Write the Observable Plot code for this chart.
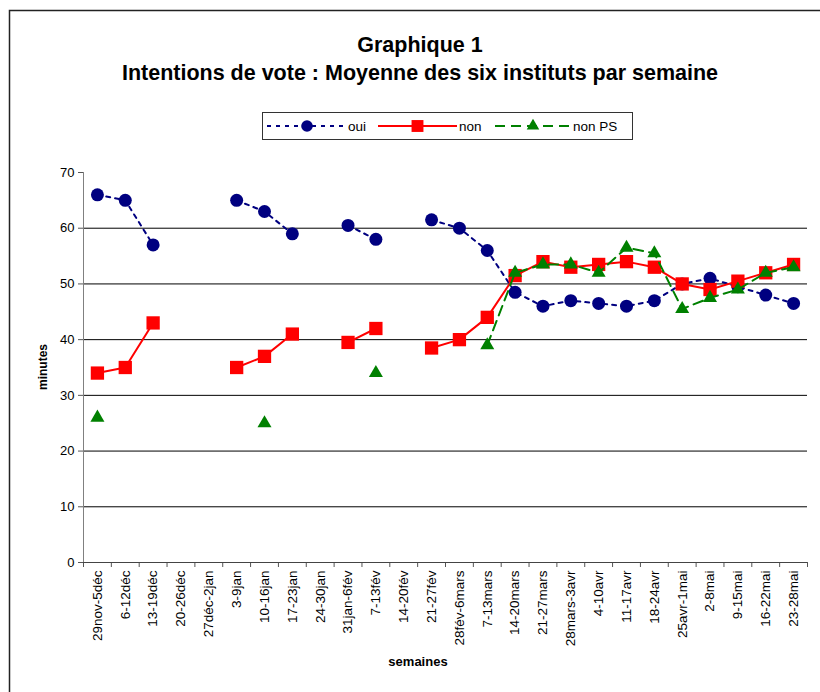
<!DOCTYPE html>
<html>
<head>
<meta charset="utf-8">
<script src="https://cdn.jsdelivr.net/npm/d3@7"></script>
<script src="https://cdn.jsdelivr.net/npm/@observablehq/plot@0.6"></script>
<style>
  html, body { margin: 0; padding: 0; background: #fff; }
  #wrap { position: relative; width: 820px; height: 692px; overflow: hidden; font-family: "Liberation Sans", Arial, sans-serif; }
  #wrap > svg { position: absolute; left: 0; top: 0; }
</style>
</head>
<body>
<div id="wrap"></div>
<script>
const title1 = "Graphique 1";
const title2 = "Intentions de vote : Moyenne des six instituts par semaine";
const xTitle = "semaines";
const yTitle = "minutes";
const seriesNames = ["oui", "non", "non PS"];
const weeks = ["29nov-5déc","6-12déc","13-19déc","20-26déc","27déc-2jan","3-9jan","10-16jan","17-23jan","24-30jan","31jan-6fév","7-13fév","14-20fév","21-27fév","28fév-6mars","7-13mars","14-20mars","21-27mars","28mars-3avr","4-10avr","11-17avr","18-24avr","25avr-1mai","2-8mai","9-15mai","16-22mai","23-28mai"];
const oui   = [66,65,57,null,null,65,63,59,null,60.5,58,null,61.5,60,56,48.5,46,47,46.5,46,47,50,51,49.5,48,46.5];
const non   = [34,35,43,null,null,35,37,41,null,39.5,42,null,38.5,40,44,51.5,54,53,53.5,54,53,50,49,50.5,52,53.5];
const nonPS = [26,null,null,null,null,null,25,null,null,null,34,null,null,null,39,52,53.5,53.5,52,56.5,55.5,45.5,47.5,49,52,53];
const yTicks = [0,10,20,30,40,50,60,70];
const gridTicks = [10,20,30,40,50,60];

const colors = ["#000080", "#FF0000", "#008000"];
const dashes = ["4,5", null, "10,6"];
const symbols = ["circle", "square", "triangle"];
const radii = [6.5, 7.5, 5.2];

const rows = weeks.map((w, i) => ({i, w, oui: oui[i] ?? NaN, non: non[i] ?? NaN, nonPS: nonPS[i] ?? NaN}));
const keys = ["oui", "non", "nonPS"];

const seriesMarks = keys.flatMap((k, s) => [
  Plot.line(rows, {x: "i", y: k, stroke: colors[s], strokeWidth: 2, strokeDasharray: dashes[s] ?? undefined}),
  Plot.dot(rows, {x: "i", y: k, fill: colors[s], stroke: "none", r: radii[s], symbol: symbols[s]})
]);

const chart = Plot.plot({
  width: 820,
  height: 692,
  marginLeft: 83,
  marginRight: 13,
  marginTop: 172,
  marginBottom: 130,
  style: {fontFamily: "'Liberation Sans', Arial, sans-serif", fontSize: "13px", color: "#000", background: "transparent", overflow: "visible"},
  x: {type: "linear", domain: [-0.5, weeks.length - 0.5]},
  y: {domain: [0, 70]},
  marks: [
    Plot.gridY(gridTicks, {stroke: "#000", strokeOpacity: 1}),
    Plot.axisY({ticks: yTicks, tickSize: 5, tickPadding: 4, fontSize: 13, label: null, stroke: "#555"}),
    Plot.axisX({ticks: d3.range(weeks.length), tickFormat: i => weeks[i], tickSize: 0, tickRotate: -90, tickPadding: 8, fontSize: 13.5, label: null}),
    Plot.axisX({ticks: d3.range(weeks.length + 1).map(v => v - 0.5), tickFormat: () => "", tickSize: 5, label: null, stroke: "#555"}),
    Plot.ruleX([-0.5], {stroke: "#808080"}),
    Plot.ruleY([0], {stroke: "#444"}),
    ...seriesMarks
  ]
});
document.getElementById("wrap").appendChild(chart);

// overlay: border, titles, axis titles, legend
const ov = d3.select("#wrap").append("svg").attr("width", 820).attr("height", 692)
  .style("font-family", "'Liberation Sans', Arial, sans-serif");
ov.append("rect").attr("x", 9.5).attr("y", 10.5).attr("width", 830).attr("height", 700)
  .attr("fill", "none").attr("stroke", "#222").attr("stroke-width", 1.5);
ov.append("text").attr("x", 420).attr("y", 52).attr("text-anchor", "middle")
  .attr("font-weight", "bold").attr("font-size", 21.5).text(title1);
ov.append("text").attr("x", 420).attr("y", 80).attr("text-anchor", "middle")
  .attr("font-weight", "bold").attr("font-size", 21.5).text(title2);
ov.append("text").attr("x", 418).attr("y", 666).attr("text-anchor", "middle")
  .attr("font-weight", "bold").attr("font-size", 13).text(xTitle);
ov.append("text").attr("transform", "translate(47,367) rotate(-90)").attr("text-anchor", "middle")
  .attr("font-weight", "bold").attr("font-size", 12).text(yTitle);

const lg = ov.append("g").attr("transform", "translate(262,112)");
lg.append("rect").attr("x", 0.5).attr("y", 0.5).attr("width", 370).attr("height", 27)
  .attr("fill", "#fff").attr("stroke", "#333").attr("stroke-width", 1);
const lgItems = [
  {x0: 5, x1: 85, tx: 86},
  {x0: 116, x1: 195, tx: 197},
  {x0: 233, x1: 309, tx: 311}
];
lgItems.forEach((it, s) => {
  const cy = 14;
  const g = lg.append("g");
  g.append("line").attr("x1", it.x0).attr("x2", it.x1).attr("y1", cy).attr("y2", cy)
    .attr("stroke", colors[s]).attr("stroke-width", 2).attr("stroke-dasharray", dashes[s]);
  const sym = {circle: d3.symbolCircle, square: d3.symbolSquare, triangle: d3.symbolTriangle}[symbols[s]];
  g.append("path").attr("d", d3.symbol(sym, Math.PI * radii[s] * radii[s] * 0.8)())
    .attr("transform", `translate(${(it.x0 + it.x1) / 2},${cy})`).attr("fill", colors[s]);
  g.append("text").attr("x", it.tx).attr("y", cy + 5).attr("font-size", 13.5).text(seriesNames[s]);
});
</script>
</body>
</html>
